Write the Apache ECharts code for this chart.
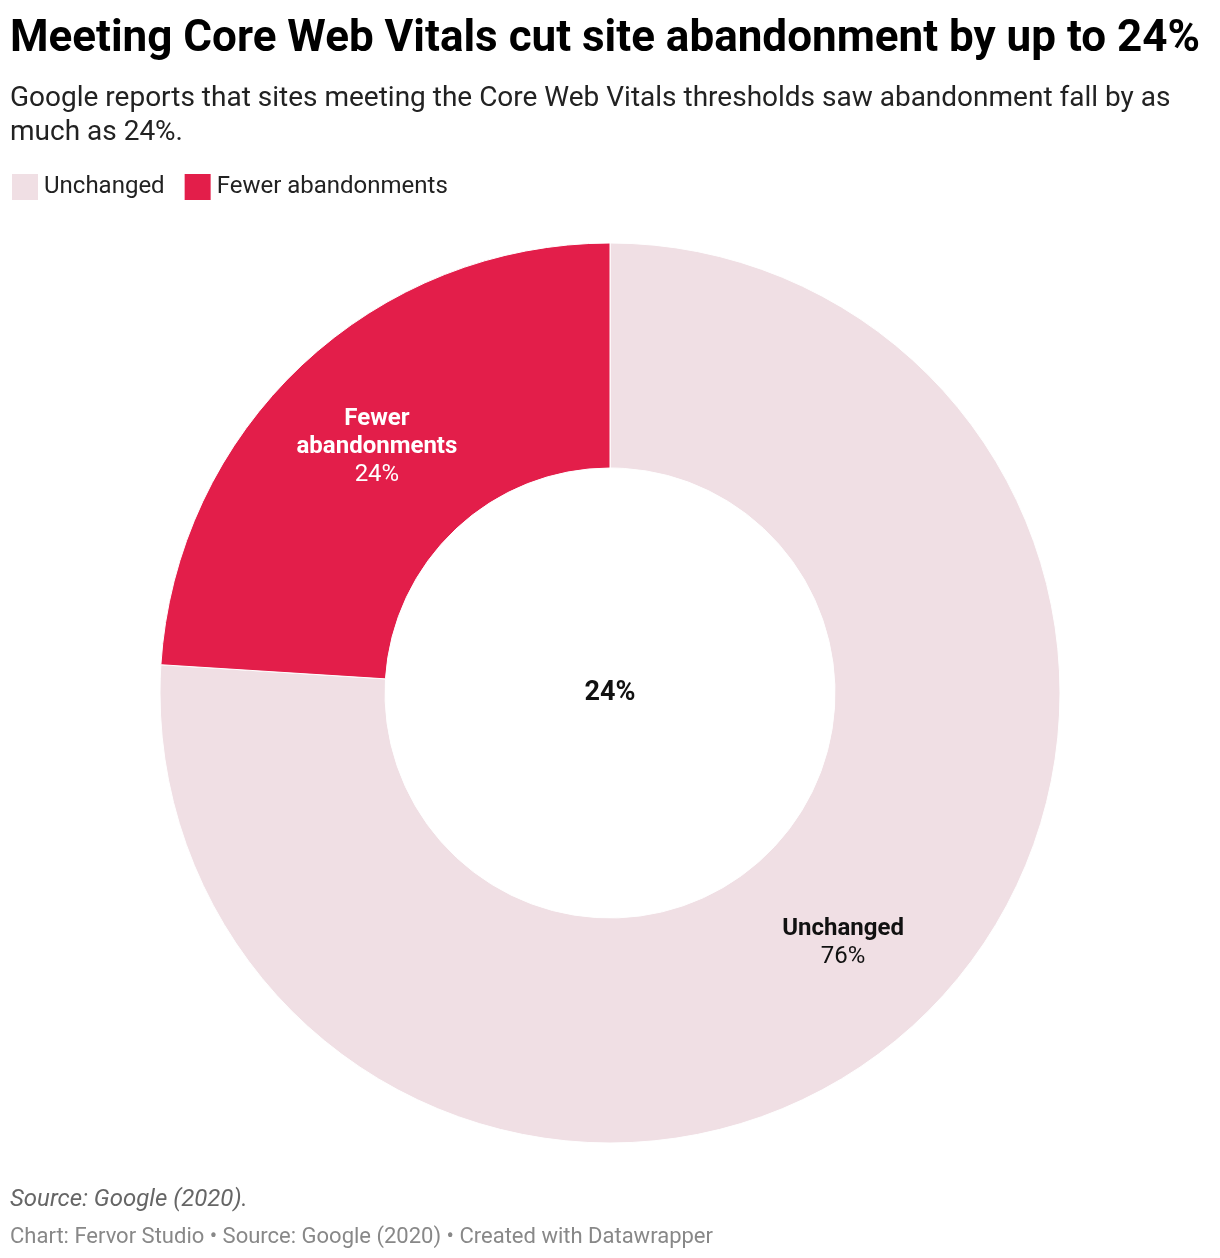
<!DOCTYPE html>
<html>
<head>
<meta charset="utf-8">
<title>Core Web Vitals abandonment</title>
<script src="https://cdn.jsdelivr.net/npm/echarts@6/dist/echarts.min.js"></script>
<style>
    html, body { margin: 0; padding: 0; background: #fff; }
    #main { width: 1220px; height: 1258px; }
</style>
</head>
<body>
<div id="main"></div>
<script>
// data
var categories = ['Unchanged', 'Fewer abandonments'];
var shares = [76, 24];
var colors = ['#f0dfe4', '#e31e4a'];
var labelColors = ['#111', '#fff'];
var centerLabel = '24%';

var font = 'Roboto, "Noto Sans", sans-serif';

function buildData() {
    var out = [];
    for (var i = 0; i < categories.length; i++) {
        out.push({
            name: categories[i],
            value: shares[i],
            itemStyle: { color: colors[i] },
            label: {
                rich: {
                    n: { color: labelColors[i], fontWeight: 'bold', fontSize: 24, lineHeight: 28, fontFamily: font },
                    v: { color: labelColors[i], fontSize: 24, lineHeight: 28, fontFamily: font }
                }
            }
        });
    }
    return out;
}

var myChart = echarts.init(document.getElementById('main'));

var option = {
    backgroundColor: '#fff',
    color: colors,
    title: [
        {
            text: 'Meeting Core Web Vitals cut site abandonment by up to 24%',
            left: 10, top: 18, padding: 0,
            textStyle: { fontFamily: font, fontWeight: 'bold', fontSize: 44, color: '#000' }
        },
        {
            text: 'Google reports that sites meeting the Core Web Vitals thresholds saw abandonment fall by as\nmuch as 24%.',
            left: 10, top: 82, padding: 0,
            textStyle: { fontFamily: font, fontWeight: 'normal', fontSize: 28, lineHeight: 34, color: '#222' }
        },
        {
            text: 'Source: Google (2020).',
            left: 10, top: 1188, padding: 0,
            textStyle: { fontFamily: font, fontWeight: 'normal', fontStyle: 'italic', fontSize: 24, color: '#666' }
        },
        {
            text: 'Chart: Fervor Studio \u2022 Source: Google (2020) \u2022 Created with Datawrapper',
            left: 10, top: 1226, padding: 0,
            textStyle: { fontFamily: font, fontWeight: 'normal', fontSize: 22, color: '#888' }
        }
    ],
    legend: {
        data: categories,
        left: 10, top: 172, padding: 0,
        itemWidth: 28, itemHeight: 28, itemGap: 18,
        icon: 'rect',
        textStyle: { fontFamily: font, fontSize: 24, color: '#222', padding: [2, 0, 0, 0] }
    },
    graphic: [
        {
            type: 'text',
            x: 610, y: 693,
            style: {
                text: centerLabel,
                fill: '#111',
                font: 'bold 27px ' + font,
                textAlign: 'center',
                textVerticalAlign: 'middle'
            }
        }
    ],
    series: [
        {
            type: 'pie',
            center: [610, 693],
            radius: [225, 450],
            startAngle: 90,
            clockwise: true,
            silent: true,
            itemStyle: { borderColor: '#fff', borderWidth: 1 },
            label: {
                show: true,
                position: 'inside',
                offset: [0, 2],
                formatter: function (p) {
                    return '{n|' + p.name.replace(' ', '\n') + '}\n{v|' + p.value + '%}';
                }
            },
            labelLine: { show: false },
            data: buildData()
        }
    ]
};
myChart.setOption(option);
</script>
</body>
</html>
